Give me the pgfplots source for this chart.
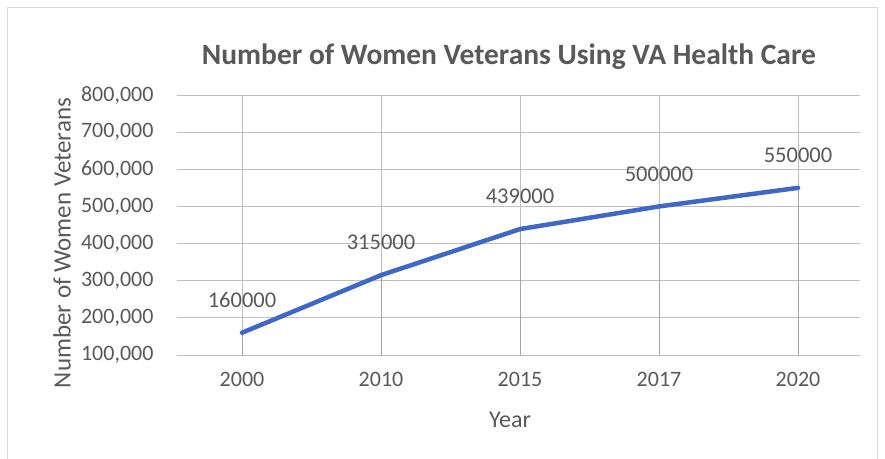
\documentclass[border=0pt]{standalone}
\usepackage{pgfplots}
\pgfplotsset{compat=1.18}
\usepackage{fontspec}
\setmainfont{Carlito}

\definecolor{txt}{HTML}{595959}
\definecolor{grid}{HTML}{D9D9D9}
\definecolor{line}{RGB}{63,103,200}
\definecolor{drop}{HTML}{A6A6A6}

\begin{document}
\begin{tikzpicture}[x=1pt,y=1pt]
\useasboundingbox (-177,-103) rectangle (708,355);
\fill[white] (-177,-103) rectangle (708,355);
\draw[grid, line width=1pt] (-169,-120) rectangle (700,347);
\begin{axis}[
  at={(0,0)}, anchor=south west,
  scale only axis, width=683pt, height=260pt,
  xmin=-0.468, xmax=4.446,
  ymin=100000, ymax=800000,
  ytick={100000,200000,...,800000},
  scaled y ticks=false,
  xtick=data,
  xticklabels={2000,2010,2015,2017,2020},
  axis line style={draw=none},
  tick style={draw=none},
  ymajorgrids, grid style={grid, line width=1pt},
  /pgf/number format/assume math mode=true,
  ticklabel style={font=\fontsize{22}{25}\selectfont, text=txt},
  yticklabel={\pgfmathprintnumber[fixed,1000 sep={,}]{\tick}},
  yticklabel style={xshift=-20pt},
  xticklabel style={yshift=-14pt},
  clip=true,
]
\addplot[ycomb, drop, line width=1pt, no marks] coordinates {
  (0,160000) (1,315000) (2,439000) (3,500000) (4,550000)
};
\addplot[line, line width=4.5pt, no marks, line join=round, line cap=round,
  nodes near coords={\pgfmathprintnumber[fixed,1000 sep={}]{\pgfplotspointmeta}},
  every node near coord/.style={anchor=south, inner sep=0pt, yshift=23pt,
    font=\fontsize{22.5}{25}\selectfont, text=txt},
  /pgf/number format/assume math mode=true,
] coordinates {
  (0,160000) (1,315000) (2,439000) (3,500000) (4,550000)
};
\end{axis}
\node[text=txt, font=\bfseries\fontsize{29.5}{33}\selectfont] at (332,298) {Number of Women Veterans Using VA Health Care};
\node[text=txt, rotate=90, font=\fontsize{25}{28}\selectfont] at (-115,112) {Number of Women Veterans};
\node[text=txt, font=\fontsize{24}{27}\selectfont] at (333,-65) {Year};
\end{tikzpicture}
\end{document}
